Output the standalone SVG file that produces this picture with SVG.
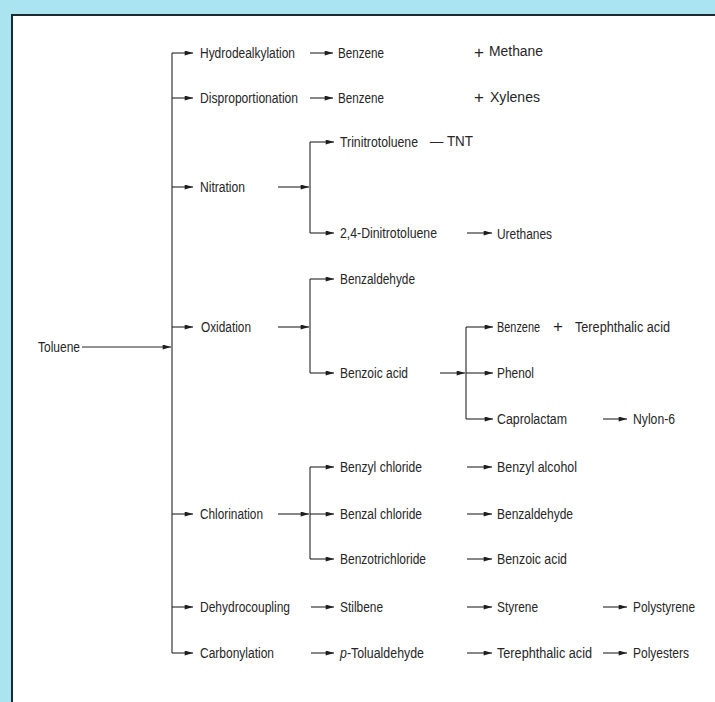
<svg xmlns="http://www.w3.org/2000/svg" width="715" height="702" viewBox="0 0 715 702">
<defs>
<marker id="ah" viewBox="0 0 10 6" refX="10" refY="3" markerWidth="10" markerHeight="5" markerUnits="userSpaceOnUse" orient="auto">
<path d="M0,0 L10,3 L0,6 z" fill="#1e1e1e"/>
</marker>
<style>
text{font-family:"Liberation Sans",Arial,sans-serif;font-size:14px;fill:#262626}
.sym{font-size:17px;font-weight:300}
.c path,.c line{stroke:#262626;stroke-width:1.1;fill:none}
.a{marker-end:url(#ah)}
</style>
</defs>
<rect x="0" y="0" width="715" height="702" fill="#aae4f0"/>
<rect x="12" y="15" width="703" height="687" fill="#ffffff"/>
<path d="M12,702 V15 H715" fill="none" stroke="#1c2a30" stroke-width="2"/>

<g class="c" id="connectors">
<path d="M82,347 H171" class="a"/>
<path d="M172,53 V653"/>
<path d="M172,53 H193" class="a"/>
<path d="M172,98 H193" class="a"/>
<path d="M172,187 H193" class="a"/>
<path d="M172,327 H193" class="a"/>
<path d="M172,514 H193" class="a"/>
<path d="M172,607 H193" class="a"/>
<path d="M172,653 H193" class="a"/>
<path d="M310,53 H333" class="a"/>
<path d="M310,98 H333" class="a"/>
<path d="M278,187 H309" class="a"/>
<path d="M310,142 V233"/>
<path d="M310,142 H334" class="a"/>
<path d="M310,233 H334" class="a"/>
<path d="M278,327 H309" class="a"/>
<path d="M310,279 V373"/>
<path d="M310,279 H334" class="a"/>
<path d="M310,373 H334" class="a"/>
<path d="M440,373 H465" class="a"/>
<path d="M466,327 V419"/>
<path d="M466,327 H493" class="a"/>
<path d="M466,373 H493" class="a"/>
<path d="M466,419 H493" class="a"/>
<path d="M278,514 H309" class="a"/>
<path d="M310,467 V559"/>
<path d="M310,467 H334" class="a"/>
<path d="M310,514 H334" class="a"/>
<path d="M310,559 H334" class="a"/>
<path d="M311,607 H334" class="a"/>
<path d="M311,653 H334" class="a"/>
<path d="M467,233 H492" class="a"/>
<path d="M467,467 H492" class="a"/>
<path d="M467,514 H492" class="a"/>
<path d="M467,559 H492" class="a"/>
<path d="M467,607 H492" class="a"/>
<path d="M467,653 H492" class="a"/>
<path d="M603,419 H627" class="a"/>
<path d="M603,607 H627" class="a"/>
<path d="M603,653 H627" class="a"/>
</g>

<g id="toluene"><text x="38" y="352" textLength="42" lengthAdjust="spacingAndGlyphs">Toluene</text></g>

<g id="hydrodealkylation"><text x="200" y="58" textLength="95" lengthAdjust="spacingAndGlyphs">Hydrodealkylation</text></g>
<g id="disproportionation"><text x="200" y="103" textLength="98" lengthAdjust="spacingAndGlyphs">Disproportionation</text></g>
<g id="nitration"><text x="200" y="192" textLength="45" lengthAdjust="spacingAndGlyphs">Nitration</text></g>
<g id="oxidation"><text x="201" y="332" textLength="50" lengthAdjust="spacingAndGlyphs">Oxidation</text></g>
<g id="chlorination"><text x="200" y="519" textLength="63" lengthAdjust="spacingAndGlyphs">Chlorination</text></g>
<g id="dehydrocoupling"><text x="200" y="612" textLength="90" lengthAdjust="spacingAndGlyphs">Dehydrocoupling</text></g>
<g id="carbonylation"><text x="200" y="658" textLength="74" lengthAdjust="spacingAndGlyphs">Carbonylation</text></g>

<g id="benzene-methane">
<text x="338" y="58" textLength="46" lengthAdjust="spacingAndGlyphs">Benzene</text>
<text class="sym" x="474" y="58">+</text>
<text x="489" y="56" textLength="54" lengthAdjust="spacingAndGlyphs">Methane</text>
</g>
<g id="benzene-xylenes">
<text x="338" y="103" textLength="46" lengthAdjust="spacingAndGlyphs">Benzene</text>
<text class="sym" x="474" y="103">+</text>
<text x="490" y="102" textLength="50" lengthAdjust="spacingAndGlyphs">Xylenes</text>
</g>
<g id="trinitrotoluene">
<text x="340" y="147" textLength="78" lengthAdjust="spacingAndGlyphs">Trinitrotoluene</text>
<text x="430" y="146" textLength="43" lengthAdjust="spacingAndGlyphs">— TNT</text>
</g>
<g id="dinitrotoluene"><text x="340" y="238" textLength="97" lengthAdjust="spacingAndGlyphs">2,4-Dinitrotoluene</text></g>
<g id="urethanes"><text x="497" y="239" textLength="55" lengthAdjust="spacingAndGlyphs">Urethanes</text></g>
<g id="benzaldehyde-ox"><text x="340" y="284" textLength="75" lengthAdjust="spacingAndGlyphs">Benzaldehyde</text></g>
<g id="benzoic-acid-ox"><text x="340" y="378" textLength="68" lengthAdjust="spacingAndGlyphs">Benzoic acid</text></g>
<g id="benzene-terephthalic">
<text x="497" y="332" textLength="43" lengthAdjust="spacingAndGlyphs">Benzene</text>
<text class="sym" x="553" y="332">+</text>
<text x="575" y="332" textLength="95" lengthAdjust="spacingAndGlyphs">Terephthalic acid</text>
</g>
<g id="phenol"><text x="497" y="378" textLength="37" lengthAdjust="spacingAndGlyphs">Phenol</text></g>
<g id="caprolactam"><text x="497" y="424" textLength="70" lengthAdjust="spacingAndGlyphs">Caprolactam</text></g>
<g id="nylon6"><text x="633" y="424" textLength="42" lengthAdjust="spacingAndGlyphs">Nylon-6</text></g>
<g id="benzyl-chloride"><text x="340" y="472" textLength="82" lengthAdjust="spacingAndGlyphs">Benzyl chloride</text></g>
<g id="benzyl-alcohol"><text x="497" y="472" textLength="80" lengthAdjust="spacingAndGlyphs">Benzyl alcohol</text></g>
<g id="benzal-chloride"><text x="340" y="519" textLength="82" lengthAdjust="spacingAndGlyphs">Benzal chloride</text></g>
<g id="benzaldehyde-cl"><text x="497" y="519" textLength="76" lengthAdjust="spacingAndGlyphs">Benzaldehyde</text></g>
<g id="benzotrichloride"><text x="340" y="564" textLength="86" lengthAdjust="spacingAndGlyphs">Benzotrichloride</text></g>
<g id="benzoic-acid-cl"><text x="497" y="564" textLength="70" lengthAdjust="spacingAndGlyphs">Benzoic acid</text></g>
<g id="stilbene"><text x="340" y="612" textLength="43" lengthAdjust="spacingAndGlyphs">Stilbene</text></g>
<g id="styrene"><text x="497" y="612" textLength="41" lengthAdjust="spacingAndGlyphs">Styrene</text></g>
<g id="polystyrene"><text x="633" y="612" textLength="62" lengthAdjust="spacingAndGlyphs">Polystyrene</text></g>
<g id="p-tolualdehyde"><text x="340" y="658" textLength="84" lengthAdjust="spacingAndGlyphs"><tspan font-style="italic">p</tspan>-Tolualdehyde</text></g>
<g id="terephthalic-acid"><text x="497" y="658" textLength="95" lengthAdjust="spacingAndGlyphs">Terephthalic acid</text></g>
<g id="polyesters"><text x="633" y="658" textLength="56" lengthAdjust="spacingAndGlyphs">Polyesters</text></g>
</svg>
